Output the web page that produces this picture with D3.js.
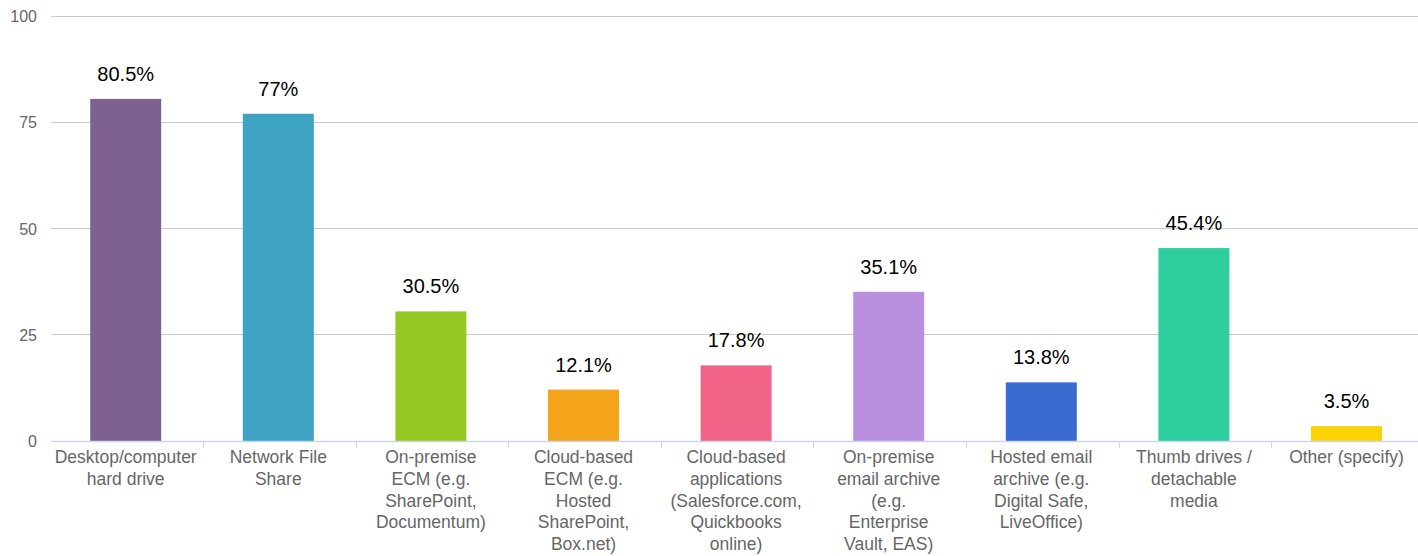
<!DOCTYPE html>
<html><head><meta charset="utf-8">
<script src="https://cdn.jsdelivr.net/npm/d3@7"></script>
<style>body{margin:0;background:#fff;}svg{display:block;font-family:"Liberation Sans",Arial,Helvetica,sans-serif;}</style>
</head><body>
<svg id="c" width="1418" height="556"></svg>
<script>
const categories = [
  "Desktop/computer\nhard drive",
  "Network File\nShare",
  "On-premise\nECM (e.g.\nSharePoint,\nDocumentum)",
  "Cloud-based\nECM (e.g.\nHosted\nSharePoint,\nBox.net)",
  "Cloud-based\napplications\n(Salesforce.com,\nQuickbooks\nonline)",
  "On-premise\nemail archive\n(e.g.\nEnterprise\nVault, EAS)",
  "Hosted email\narchive (e.g.\nDigital Safe,\nLiveOffice)",
  "Thumb drives /\ndetachable\nmedia",
  "Other (specify)"
];
const values = [80.5, 77, 30.5, 12.1, 17.8, 35.1, 13.8, 45.4, 3.5];
const valueLabels = ["80.5%", "77%", "30.5%", "12.1%", "17.8%", "35.1%", "13.8%", "45.4%", "3.5%"];
const colors = ["#7c6191", "#3ea3c3", "#96c823", "#f4a41b", "#f06488", "#bb8fdf", "#3a6bd1", "#2ecf9e", "#fcd203"];
const yTicks = [0, 25, 50, 75, 100];

const svg = d3.select("#c");
const x = d3.scaleBand().domain(d3.range(categories.length)).range([49.4, 1422.8]).padding(0);
const y = d3.scaleLinear().domain([0, 100]).range([441, 16]);
const plotLeft = 51, plotRight = 1418;

// gridlines
svg.append("g").selectAll("line").data(yTicks.filter(d => d > 0)).join("line")
  .attr("x1", plotLeft).attr("x2", plotRight)
  .attr("y1", d => y(d)).attr("y2", d => y(d))
  .attr("stroke", "#cccccc").attr("stroke-width", 1).attr("shape-rendering", "crispEdges");

// y labels
svg.append("g").selectAll("text").data(yTicks).join("text")
  .attr("x", 37).attr("y", d => y(d) + 6)
  .attr("text-anchor", "end").attr("font-size", 16).attr("fill", "#666666")
  .text(d => d);

// bars
const bw = 71;
svg.append("g").selectAll("rect").data(values).join("rect")
  .attr("x", (d, i) => x(i) + x.bandwidth() / 2 - bw / 2)
  .attr("width", bw)
  .attr("y", d => y(d))
  .attr("height", d => y(0) - y(d))
  .attr("fill", (d, i) => colors[i]);

// axis line
svg.append("line").attr("x1", plotLeft).attr("x2", plotRight).attr("y1", 441.5).attr("y2", 441.5)
  .attr("stroke", "#ccd6eb").attr("stroke-width", 1.5);
// tick marks
svg.append("g").selectAll("line").data(d3.range(1, categories.length)).join("line")
  .attr("x1", i => Math.round(x(i)) + 1.5).attr("x2", i => Math.round(x(i)) + 1.5)
  .attr("y1", 441).attr("y2", 448)
  .attr("stroke", "#ccd6eb").attr("stroke-width", 1);

// value labels
svg.append("g").selectAll("text").data(values).join("text")
  .attr("x", (d, i) => x(i) + x.bandwidth() / 2)
  .attr("y", d => y(d) - 18)
  .attr("text-anchor", "middle").attr("font-size", 20).attr("fill", "#000")
  .text((d, i) => valueLabels[i]);

// x labels
const xl = svg.append("g").selectAll("text").data(categories).join("text")
  .attr("x", (d, i) => x(i) + x.bandwidth() / 2)
  .attr("y", 463)
  .attr("text-anchor", "middle").attr("font-size", 17.5).attr("fill", "#666666");
xl.each(function(d, i) {
  const t = d3.select(this);
  d.split("\n").forEach((line, k) => {
    t.append("tspan").attr("x", x(i) + x.bandwidth() / 2).attr("dy", k === 0 ? 0 : 21.8).text(line);
  });
});
</script>
</body></html>
